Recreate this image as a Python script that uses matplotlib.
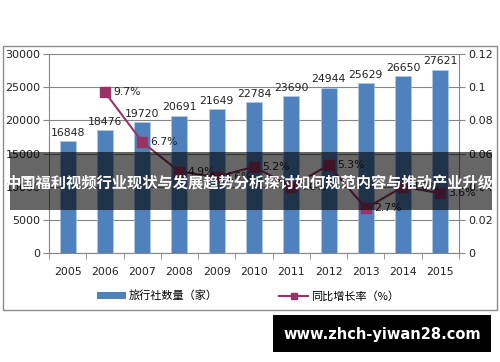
import matplotlib
matplotlib.use("Agg")
import matplotlib.pyplot as plt
from matplotlib.patches import Rectangle
from matplotlib.lines import Line2D
from matplotlib.ticker import FuncFormatter, MultipleLocator

plt.rcParams['font.family'] = ['Noto Sans CJK SC', 'DejaVu Sans']

years = ['2005', '2006', '2007', '2008', '2009', '2010', '2011', '2012', '2013', '2014', '2015']
agencies = [16848, 18476, 19720, 20691, 21649, 22784, 23690, 24944, 25629, 26650, 27621]
growth_years = ['2006', '2007', '2008', '2009', '2010', '2011', '2012', '2013', '2014', '2015']
growth = [0.097, 0.067, 0.049, 0.046, 0.052, 0.040, 0.053, 0.027, 0.040, 0.036]
growth_labels = ['9.7%', '6.7%', '4.9%', '4.6%', '5.2%', '4.0%', '5.3%', '2.7%', '4.0%', '3.6%']

bar_name = '旅行社数量（家）'
line_name = '同比增长率（%）'
banner = '中国福利视频行业现状与发展趋势分析探讨如何规范内容与推动产业升级'
watermark = 'www.zhch-yiwan28.com'

W, H = 500, 362
fig = plt.figure(figsize=(W / 100, H / 100), dpi=100)

# outer frame
fig.patches.append(Rectangle((3 / W, 1 - 310 / H), 494 / W, 264 / H, transform=fig.transFigure,
                             facecolor='none', edgecolor='#8c8c8c', linewidth=1.0, zorder=-1))

ax = fig.add_axes([49 / W, 1 - 253 / H, 410 / W, 199 / H])
ax.set_facecolor('none')
ax2 = ax.twinx()

x = list(range(len(years)))
bar_color = '#4F81BD'
line_color = '#993366'
grid_color = '#868686'

ax.bar(x, agencies, width=0.43, color=bar_color, edgecolor='#b8cce4', linewidth=0.4, zorder=3)
for xi, v in zip(x, agencies):
    ax.text(xi, v + 500, str(v), ha='center', va='bottom', fontsize=7.8, color='#222222',
            family=['DejaVu Sans'], zorder=5)

ax.set_xlim(-0.5, len(years) - 0.5)
ax.set_ylim(0, 30000)
ax.yaxis.set_major_locator(MultipleLocator(5000))
ax.set_xticks(x)
ax.set_xticklabels(years, fontsize=7.8, family=['DejaVu Sans'])
ax.set_xticks([i + 0.5 for i in range(-1, len(years))], minor=True)
ax.tick_params(axis='x', which='major', length=0, pad=10, colors='#222222')
ax.tick_params(axis='x', which='minor', length=4, color=grid_color, direction='out')
ax.tick_params(axis='y', length=4, color=grid_color, labelsize=8, labelcolor='#222222', pad=2)
for lbl in ax.get_yticklabels():
    lbl.set_family(['DejaVu Sans'])
ax.grid(axis='y', color=grid_color, linewidth=0.8, zorder=0)
ax.set_axisbelow(True)
for s in ['top', 'right']:
    ax.spines[s].set_visible(False)
for s in ['left', 'bottom']:
    ax.spines[s].set_color(grid_color)

gx = [years.index(y) for y in growth_years]
ax2.plot(gx, growth, color=line_color, linewidth=1.5, marker='s', markersize=7.5,
         markerfacecolor=line_color, markeredgecolor=line_color, zorder=6)
for xi, v, lab in zip(gx, growth, growth_labels):
    ax2.text(xi + 0.22, v, lab, ha='left', va='center', fontsize=7.8, color='#222222',
             family=['DejaVu Sans'], zorder=7)
ax2.set_ylim(0, 0.12)
ax2.yaxis.set_major_locator(MultipleLocator(0.02))
ax2.yaxis.set_major_formatter(FuncFormatter(lambda v, p: '%g' % round(v, 2)))
ax2.tick_params(axis='y', length=4, color=grid_color, labelsize=8, labelcolor='#222222', pad=3)
for lbl in ax2.get_yticklabels():
    lbl.set_family(['DejaVu Sans'])
for s in ['top', 'left', 'bottom']:
    ax2.spines[s].set_visible(False)
ax2.spines['right'].set_color(grid_color)

handles = [Rectangle((0, 0), 1, 1, facecolor=bar_color),
           Line2D([0], [0], color=line_color, linewidth=1.5, marker='s', markersize=5)]
fig.legend(handles, [bar_name, line_name], loc='center', bbox_to_anchor=(248 / W, 1 - 296 / H),
           ncol=2, frameon=False, fontsize=8, columnspacing=5.5, handlelength=2.6,
           handletextpad=0.3)

# banner overlay
fig.patches.append(Rectangle((10 / W, 1 - 210 / H), 482 / W, 58 / H, transform=fig.transFigure,
                             facecolor='black', alpha=0.6, edgecolor='none', zorder=20))
fig.text(0.5, 1 - 183 / H, banner, ha='center', va='center', color='white', fontsize=11,
         fontweight='bold', zorder=21)

# watermark
fig.patches.append(Rectangle((273 / W, 1 - 352 / H), 218 / W, 37 / H, transform=fig.transFigure,
                             facecolor='black', edgecolor='none', zorder=20))
fig.text(382 / W, 1 - 334 / H, watermark, ha='center', va='center', color='white', fontsize=10.5,
         fontweight='bold', family=['DejaVu Sans'], zorder=21)

fig.savefig('out.png', dpi=100)
